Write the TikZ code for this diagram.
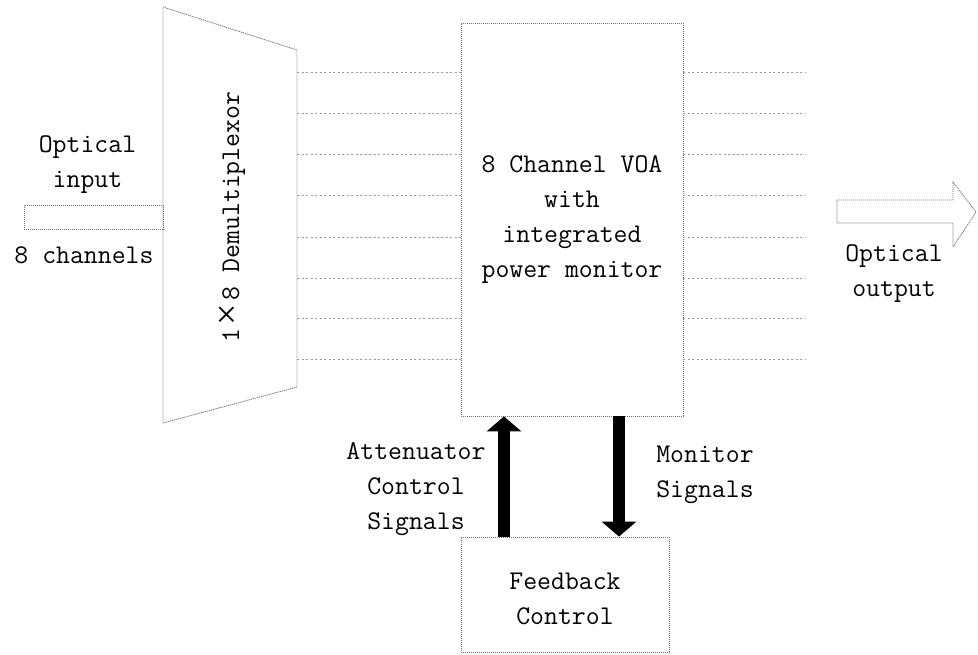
\documentclass[tikz,border=0pt]{standalone}
\usepackage{fontspec}
\newfontfamily\diagfont{Latin Modern Mono}
\newfontfamily\xfont{Liberation Serif}
\usetikzlibrary{arrows.meta}
\begin{document}
\begin{tikzpicture}[x=1pt,y=-1pt,
  lbl/.style={font=\diagfont\fontsize{27}{35}\selectfont, align=center, inner sep=0pt},
  edge/.style={draw=black!55, line width=0.8pt, dash pattern=on 1.2pt off 0.8pt},
  chan/.style={draw=black!40, line width=0.7pt, dash pattern=on 2pt off 2.5pt},
  block/.style={edge, rectangle, inner sep=0pt},
  sig/.style={draw=black, line width=12pt, -{Triangle[width=34pt,length=15pt]}}
]
\useasboundingbox (0,0) rectangle (978,655);

% demultiplexer trapezoid
\draw[edge] (163,7) -- (297,50) -- (297,387) -- (163,423) -- cycle;
\node[lbl, rotate=90] (demuxtxt) at (232,217) {1\makebox[28.4pt]{\xfont\fontsize{38}{38}\selectfont ×}8 Demultiplexor};

% input band
\node[block, minimum width=139pt, minimum height=24pt] (inp) at (93.5,217) {};
\node[lbl] (inlbl) at (87.5,165) {Optical\\input};
\node[lbl] (chlbl) at (84,255) {8 channels};

% VOA
\node[block, minimum width=222pt, minimum height=393pt, lbl, draw=black!55] (voa) at (572,219.5)
  {8 Channel VOA\\with\\integrated\\power monitor};

% channel lines
\foreach \i/\y in {1/72,2/113,3/154,4/195,5/237,6/278,7/318,8/359}{
  \coordinate (d\i) at (297,\y);
  \coordinate (o\i) at (805,\y);
  \draw[chan] (d\i) -- (d\i -| voa.west);
  \draw[chan] (d\i -| voa.east) -- (o\i);
}

% output arrow
\draw[edge] (837,200) -- (953,200) -- (953,182) -- (976,212) -- (953,247) -- (953,223) -- (837,223) -- cycle;
\node[lbl] (outlbl) at (894,273.5) {Optical\\output};

% feedback
\node[block, minimum width=208pt, minimum height=115pt] (fb) at (565,594.5) {};
\node[lbl] (fbtxt) at (565,598.5) {Feedback\\Control};

\coordinate (ua) at (504,0);
\coordinate (da) at (619,0);
\draw[sig] (ua |- fb.north) -- (ua |- voa.south);
\draw[sig] (da |- voa.south) -- (da |- fb.north);

\node[lbl] (attlbl) at (416,489) {Attenuator\\Control\\Signals};
\node[lbl, align=left] (monlbl) at (705,475) {Monitor\\Signals};
\end{tikzpicture}
\end{document}
